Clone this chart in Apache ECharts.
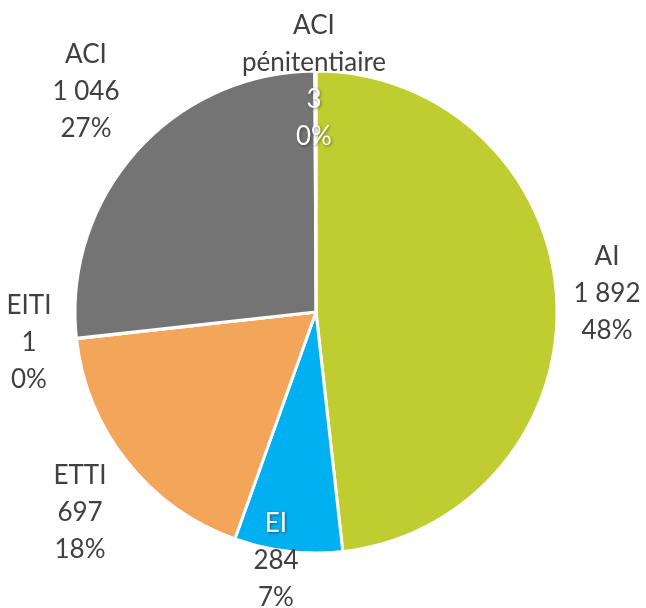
<!DOCTYPE html>
<html>
<head>
<meta charset="utf-8">
<script src="https://cdn.jsdelivr.net/npm/echarts@6/dist/echarts.min.js"></script>
<style>
  html, body { margin: 0; padding: 0; background: #fff; }
  #chart { width: 646px; height: 608px; }
</style>
</head>
<body>
<div id="chart"></div>
<script>
// données
const categories = ['AI', 'EI', 'ETTI', 'EITI', 'ACI', 'ACI pénitentiaire'];
const values = [1892, 284, 697, 1, 1046, 3];

// couleurs des parts
const colors = ['#BFCD31', '#00B0F0', '#F3A55A', '#F3A55A', '#747474', '#747474'];

// position des étiquettes (centre du bloc de texte)
const labelPos = [
    [607, 294],
    [276, 561],
    [80, 513],
    [29, 343],
    [86, 92],
    [314, 81]
];

// quelles lignes d'étiquette sont en blanc
const whiteLines = {
    1: [0],
    5: [2, 3]
};

function fmtNum(v) {
    return String(v).replace(/\B(?=(\d{3})+(?!\d))/g, ' ');
}

const chart = echarts.init(document.getElementById('chart'));

const option = {
    animation: false,
    series: [{
        type: 'pie',
        center: [316, 312],
        radius: [0, 241],
        startAngle: 90,
        clockwise: true,
        avoidLabelOverlap: false,
        itemStyle: { borderColor: '#fff', borderWidth: 3 },
        labelLine: { show: false },
        label: {
            show: true,
            position: 'outside',
            fontFamily: 'Lato',
            fontSize: 26,
            lineHeight: 37,
            color: '#404040',
            align: 'center',
            formatter: function(p) {
                const w = whiteLines[p.dataIndex] || [];
                // le nom long passe sur deux lignes
                const lines = p.name.split(' ')
                    .concat([fmtNum(p.value), Math.round(p.percent) + '%']);
                return lines.map(function(t, i) {
                    return '{' + (w.indexOf(i) >= 0 ? 'w' : 'd') + '|' + t + '}';
                }).join('\n');
            },
            rich: {
                d: { color: '#404040', fontFamily: 'Lato', fontSize: 26, lineHeight: 37 },
                w: {
                    color: '#ffffff', fontFamily: 'Lato', fontSize: 26, lineHeight: 37,
                    textShadowColor: 'rgba(0,0,0,0.45)', textShadowBlur: 3,
                    textShadowOffsetX: 1, textShadowOffsetY: 1
                }
            }
        },
        labelLayout: function(params) {
            const p = labelPos[params.dataIndex];
            return { x: p[0], y: p[1], align: 'center', verticalAlign: 'middle' };
        },
        data: categories.map(function(name, i) {
            return { name: name, value: values[i], itemStyle: { color: colors[i] } };
        })
    }]
};

chart.setOption(option);
</script>
</body>
</html>
